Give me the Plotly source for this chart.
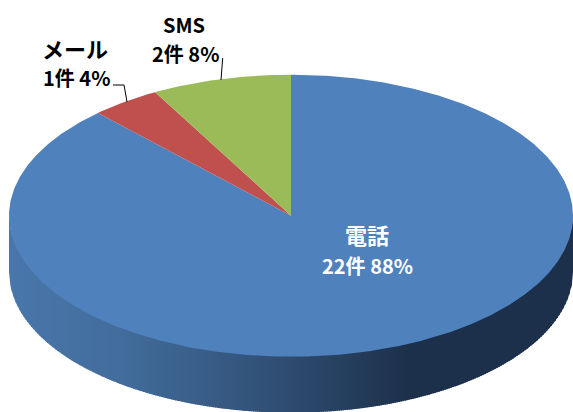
import numpy as np
import plotly.graph_objects as go

categories = ["電話", "メール", "SMS"]
counts = [22, 1, 2]
slice_colors = ["#4F81BD", "#C0504D", "#9BBB59"]
text_colors = ["white", "black", "black"]

W, H = 573, 412
CX, CY, RX, RY, DEPTH = 291, 215.7, 282, 141, 56
FONT = "Noto Sans CJK JP"

total = sum(counts)
fig = go.Figure()


def lerp(stops, t):
    xs = [s[0] for s in stops]
    return "rgb(%d,%d,%d)" % tuple(np.interp(t, xs, [s[1][i] for s in stops]) for i in range(3))


side_stops = [
    (9, (74, 119, 172)),
    (120, (66, 109, 156)),
    (200, (58, 95, 138)),
    (290, (46, 76, 112)),
    (360, (36, 60, 90)),
    (410, (29, 48, 75)),
    (573, (29, 48, 75)),
]

# side wall of the cylinder, drawn as narrow vertical bands
edges = np.arange(CX - RX, CX + RX + 2, 2.0)
for a, b in zip(edges[:-1], edges[1:]):
    xs = np.linspace(a, min(b + 0.8, CX + RX), 3)
    u = np.clip((xs - CX) / RX, -1, 1)
    top = CY + RY * np.sqrt(1 - u ** 2) - 2
    bot = CY + DEPTH + RY * np.sqrt(1 - u ** 2)
    fig.add_trace(go.Scatter(
        x=np.r_[xs, xs[::-1]], y=np.r_[bot, top[::-1]],
        mode="lines", fill="toself", line=dict(width=0),
        fillcolor=lerp(side_stops, (a + b) / 2), hoverinfo="skip", showlegend=False,
    ))

# top face, clockwise from twelve o'clock
start = 0.0
for name, value, color in zip(categories, counts, slice_colors):
    sweep = 2 * np.pi * value / total
    t = np.linspace(start, start + sweep, max(int(value * 30), 12))
    xs = CX + RX * np.sin(t)
    ys = CY - RY * np.cos(t)
    fig.add_trace(go.Scatter(
        x=np.r_[CX, xs, CX], y=np.r_[CY, ys, CY],
        mode="lines", fill="toself", line=dict(width=0),
        fillcolor=color, name=name, hoverinfo="name", showlegend=False,
    ))
    start += sweep

name_pos = [(367, 234, 22), (75, 48, 22), (184, 24, 20)]
value_pos = [(367, 265), (76, 77), (185, 53)]
for name, value, color, (nx, ny, nsize), (vx, vy) in zip(categories, counts, text_colors, name_pos, value_pos):
    pct = round(100 * value / total)
    fig.add_annotation(
        x=nx, y=ny, xref="x", yref="y", showarrow=False, text=f"<b>{name}</b>",
        font=dict(family=FONT, size=nsize, color=color), xanchor="center", yanchor="middle",
    )
    fig.add_annotation(
        x=vx, y=vy, xref="x", yref="y", showarrow=False, text=f"<b>{value}件 {pct}%</b>",
        font=dict(family=FONT, size=20, color=color), xanchor="center", yanchor="middle",
    )

leaders = [[(222.7, 58), (221, 80)], [(113, 85), (124, 85), (127, 102)]]
for pts in leaders:
    fig.add_trace(go.Scatter(
        x=[p[0] for p in pts], y=[p[1] for p in pts], mode="lines",
        line=dict(color="black", width=1), hoverinfo="skip", showlegend=False,
    ))

fig.update_xaxes(range=[0, W], visible=False, fixedrange=True)
fig.update_yaxes(range=[H, 0], visible=False, fixedrange=True)
fig.update_layout(
    width=W, height=H, margin=dict(l=0, r=0, t=0, b=0),
    paper_bgcolor="white", plot_bgcolor="white", showlegend=False,
)
fig.write_html(
    "out.html", config=dict(displayModeBar=False),
    post_script="document.body.style.margin='0';document.body.style.overflow='hidden';",
)
